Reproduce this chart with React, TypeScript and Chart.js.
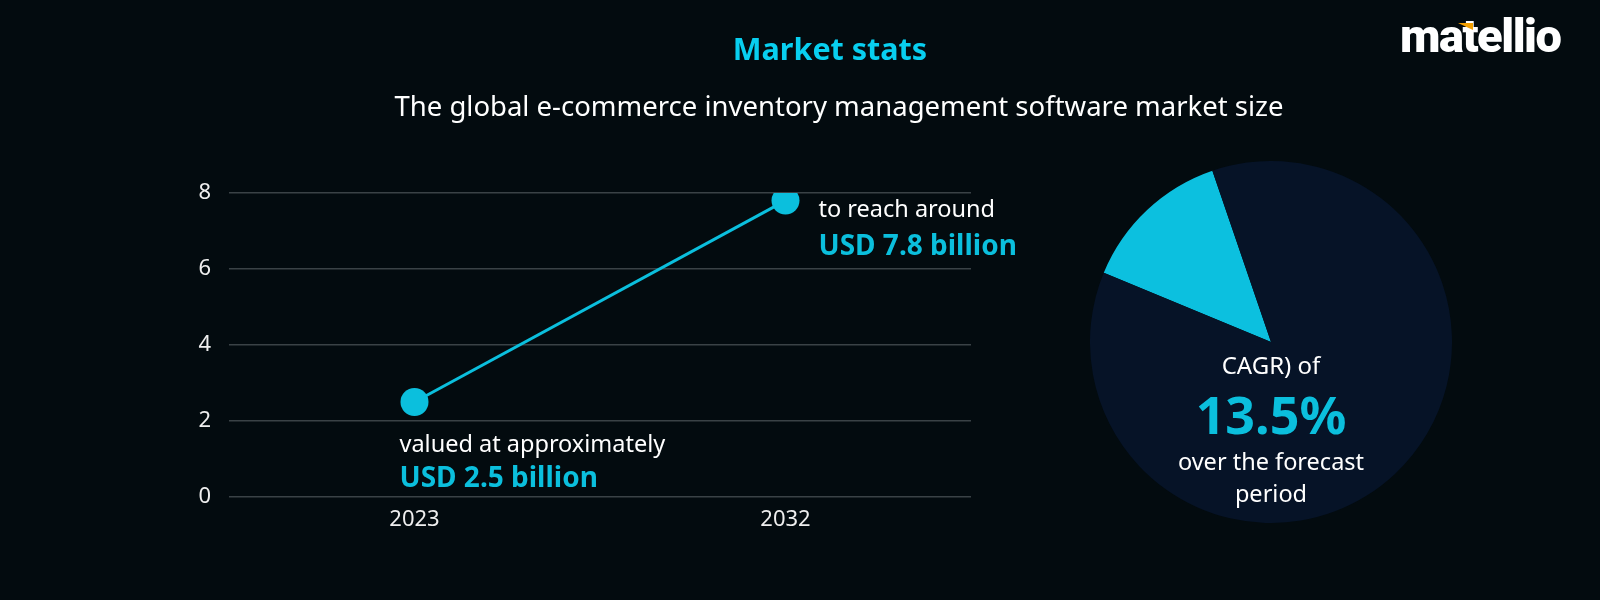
import React, { useEffect, useRef } from "react";
import { Chart, registerables } from "chart.js";

Chart.register(...registerables);

const years = ["2023", "2032"];
const marketSize = [2.5, 7.8];
const noteLines = ["valued at approximately", "to reach around"];
const noteValues = ["USD 2.5 billion", "USD 7.8 billion"];
const cagrLabels = ["CAGR", "Rest"];
const cagrShare = [13.5, 86.5];

const BG = "#030b0f";
const CYAN = "#0bbfdd";
const FONT = "'Noto Sans', 'Open Sans', sans-serif";

export default function App() {
  const lineRef = useRef<HTMLCanvasElement | null>(null);
  const pieRef = useRef<HTMLCanvasElement | null>(null);

  useEffect(() => {
    document.body.style.margin = "0";
    const notePlugin = {
      id: "notes",
      afterDatasetsDraw(chart: any) {
        const meta = chart.getDatasetMeta(0);
        const ctx = chart.ctx;
        ctx.save();
        ctx.textBaseline = "middle";
        ctx.textAlign = "left";
        meta.data.forEach((pt: any, i: number) => {
          let x: number, y1: number, y2: number;
          if (i === 0) {
            x = pt.x - 15;
            y1 = pt.y + 43;
            y2 = pt.y + 77;
          } else {
            x = pt.x + 33;
            y1 = pt.y + 10;
            y2 = pt.y + 46;
          }
          ctx.fillStyle = "#ffffff";
          ctx.font = `400 23.5px ${FONT}`;
          ctx.fillText(noteLines[i], x, y1);
          ctx.fillStyle = CYAN;
          ctx.font = `700 28px ${FONT}`;
          ctx.fillText(noteValues[i], x, y2);
        });
        ctx.restore();
      },
    };

    const line = new Chart(lineRef.current!, {
      type: "line",
      data: {
        labels: years,
        datasets: [
          {
            data: marketSize,
            borderColor: CYAN,
            backgroundColor: CYAN,
            borderWidth: 3,
            pointRadius: 14,
            pointBackgroundColor: CYAN,
            pointBorderWidth: 0,
            tension: 0,
          },
        ],
      },
      options: {
        animation: false,
        responsive: false,
        maintainAspectRatio: false,
        layout: { padding: { left: 0, top: 193, right: 629, bottom: 63 } },
        plugins: { legend: { display: false }, tooltip: { enabled: false } },
        scales: {
          x: {
            offset: true,
            grid: { display: false, drawTicks: false },
            border: { display: false },
            ticks: { color: "#eeeeee", font: { family: FONT, size: 22 }, padding: 10 },
            afterFit: (s: any) => {
              s.height = 40;
            },
          },
          y: {
            min: 0,
            max: 8,
            ticks: { stepSize: 2, color: "#eeeeee", font: { family: FONT, size: 22 }, padding: 18 },
            grid: { color: "#3a4246", lineWidth: 1.5, drawTicks: false },
            border: { display: false },
            afterFit: (s: any) => {
              s.width = 229;
            },
          },
        },
      },
      plugins: [notePlugin],
    });

    const pie = new Chart(pieRef.current!, {
      type: "pie",
      data: {
        labels: cagrLabels,
        datasets: [
          {
            data: cagrShare,
            backgroundColor: ["#0cc0df", "#061327"],
            borderWidth: 0,
          },
        ],
      },
      options: {
        animation: false,
        responsive: false,
        maintainAspectRatio: false,
        rotation: -67.5,
        layout: { padding: 0 },
        plugins: { legend: { display: false }, tooltip: { enabled: false } },
      },
    });

    return () => {
      line.destroy();
      pie.destroy();
    };
  }, []);

  const abs = (s: React.CSSProperties): React.CSSProperties => ({ position: "absolute", ...s });

  return (
    <div style={{ position: "relative", width: 1600, height: 600, background: BG, overflow: "hidden", fontFamily: FONT }}>
      <canvas ref={lineRef} width={1600} height={600} style={abs({ left: 0, top: 0, width: 1600, height: 600 })} />
      <canvas ref={pieRef} width={362} height={362} style={abs({ left: 1090, top: 161, width: 362, height: 362 })} />
      <div style={abs({ left: 630, width: 400, top: 30, textAlign: "center", color: "#08cff0", fontWeight: 700, fontSize: 30.5, lineHeight: "36px" })}>
        Market stats
      </div>
      <div style={abs({ left: 339, width: 1000, top: 90, textAlign: "center", color: "#ffffff", fontWeight: 400, fontSize: 27.5, lineHeight: "32px" })}>
        The global e-commerce inventory management software market size
      </div>
      <div style={abs({ left: 1400, top: 11, color: "#ffffff", fontFamily: "Roboto, sans-serif", fontWeight: 900, fontSize: 47, lineHeight: "50px", letterSpacing: -1.5 })}>
        matellio
        <span style={abs({ left: 58, top: 12, width: 0, height: 0, borderLeft: "15px solid transparent", borderTop: "7px solid #f5a000" })} />
      </div>
      <div style={abs({ left: 1121, width: 300, top: 351, textAlign: "center", color: "#ffffff", fontSize: 24, lineHeight: "28px" })}>CAGR) of</div>
      <div style={abs({ left: 1121, width: 300, top: 385, textAlign: "center", color: CYAN, fontSize: 52, fontWeight: 700, lineHeight: "58px" })}>13.5%</div>
      <div style={abs({ left: 1121, width: 300, top: 447, textAlign: "center", color: "#ffffff", fontSize: 23.5, lineHeight: "28px" })}>over the forecast</div>
      <div style={abs({ left: 1121, width: 300, top: 479, textAlign: "center", color: "#ffffff", fontSize: 23.5, lineHeight: "28px" })}>period</div>
    </div>
  );
}
